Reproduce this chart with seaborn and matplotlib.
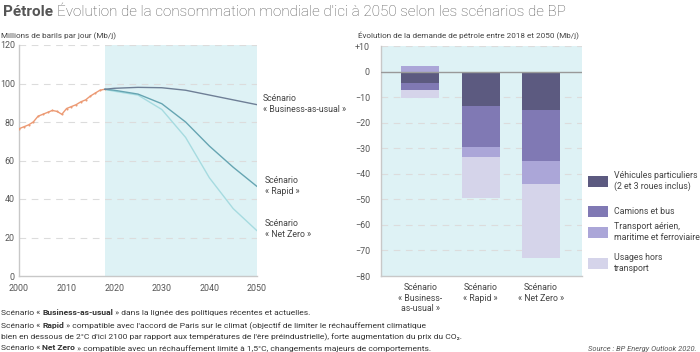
import numpy as np
import pandas as pd
import seaborn as sns
import matplotlib.pyplot as plt
from matplotlib.patches import Rectangle

# historical consumption (Mb/j)
hist_years = list(range(2000, 2019))
hist_vals = [76.5, 77.5, 78.5, 80, 83, 84, 85, 86, 85.5, 84, 87, 88, 89, 90.5, 91.5, 93.5, 95, 96.5, 97]

# scenarios
sc_years = [2018, 2020, 2025, 2030, 2035, 2040, 2045, 2050]
bau = [97, 97.5, 98, 97.8, 96.5, 94, 91.5, 89]
rapid = [97, 96.5, 94.5, 89.5, 80, 67.5, 56.5, 46.5]
netzero = [97, 96, 94, 86.5, 72, 51, 35, 23.5]

# change in demand 2018-2050 by use
scen_labels = ["Scénario\n« Business-\nas-usual »", "Scénario\n« Rapid »", "Scénario\n« Net Zero »"]
vehicules = [-4.5, -13.6, -15]
camions = [-2.8, -15.8, -20]
transport = [2.2, -4.1, -9]
hors_transport = [-3, -16, -29]

seg_names = ["Véhicules particuliers\n(2 et 3 roues inclus)", "Camions et bus",
             "Transport aérien,\nmaritime et ferroviaire", "Usages hors\ntransport"]
seg_colors = ["#5c5a80", "#8079b4", "#aba6d8", "#d5d4ea"]

sns.set_theme(style="white")
plt.rcParams['font.family'] = ['Roboto', 'DejaVu Sans']

W, H = 700, 352
fig = plt.figure(figsize=(7, 3.52), dpi=100)

def fx(px):
    return px / W

def fy(py):
    return 1 - py / H

bg = "#def2f5"
grid_c = "#dcdcdc"
txt_c = "#555555"

# ---------- left chart
ax1 = fig.add_axes([fx(19), fy(276), fx(257 - 19), (276 - 45) / H])
ax1.axvspan(2018, 2050, color=bg, lw=0, zorder=0)
for v in range(20, 121, 20):
    ax1.axhline(v, color=grid_c, lw=0.8, ls=(0, (6, 5)), zorder=0.5)

hist = pd.DataFrame({"year": hist_years, "val": hist_vals})
sns.lineplot(data=hist, x="year", y="val", ax=ax1, color="#ec9a74", lw=1.0,
             marker="o", markersize=1.5, markeredgewidth=0, zorder=3)
sc = pd.DataFrame({"year": sc_years, "Business-as-usual": bau, "Rapid": rapid, "Net Zero": netzero})
sc_long = sc.melt(id_vars="year", var_name="scen", value_name="val")
sns.lineplot(data=sc_long, x="year", y="val", hue="scen", ax=ax1, lw=1.0,
             palette={"Business-as-usual": "#6e7f96", "Rapid": "#66a5b2", "Net Zero": "#a6dbe0"},
             hue_order=["Net Zero", "Rapid", "Business-as-usual"], legend=False, zorder=3)

ax1.set_xlim(2000, 2050)
ax1.set_ylim(0, 120)
ax1.set_xticks(range(2000, 2051, 10))
ax1.set_yticks(range(0, 121, 20))
ax1.set_xlabel("")
ax1.set_ylabel("")
ax1.tick_params(axis="y", labelsize=6.4, colors=txt_c, length=0, pad=3)
ax1.tick_params(axis="x", labelsize=6.4, colors=txt_c, length=0, pad=6)
for s in ["top", "right"]:
    ax1.spines[s].set_visible(False)
for s in ["left", "bottom"]:
    ax1.spines[s].set_color("#c8c8c8")
    ax1.spines[s].set_linewidth(1.0)

lab_kw = dict(fontsize=6.3, color="#444444", va="center", ha="left", linespacing=1.3)
fig.text(fx(263), fy(104), "Scénario\n« Business-as-usual »", **lab_kw)
fig.text(fx(265), fy(186), "Scénario\n« Rapid »", **lab_kw)
fig.text(fx(265), fy(229), "Scénario\n« Net Zero »", **lab_kw)

# ---------- right chart
ax2 = fig.add_axes([fx(381), fy(276), fx(582 - 381), (276 - 46) / H])
ax2.set_facecolor(bg)
for v in range(-70, 11, 10):
    if v != 0:
        ax2.axhline(v, color=grid_c, lw=0.8, ls=(0, (6, 5)), zorder=0.5)
ax2.axhline(0, color="#999999", lw=1.0, zorder=4)

x = np.arange(len(scen_labels))
pos_bottom = np.zeros(len(x))
neg_bottom = np.zeros(len(x))
for vals, col in zip([vehicules, camions, transport, hors_transport], seg_colors):
    vals = np.array(vals)
    bottoms = np.where(vals >= 0, pos_bottom, neg_bottom)
    ax2.bar(x, vals, bottom=bottoms, width=0.63, color=col, lw=0, zorder=3)
    pos_bottom = pos_bottom + np.clip(vals, 0, None)
    neg_bottom = neg_bottom + np.clip(vals, None, 0)

ax2.set_xlim(-0.65, 2.68)
ax2.set_ylim(-80, 10)
ax2.set_yticks(range(-80, 11, 10))
ax2.set_yticklabels(["+10" if v > 0 else ("0" if v == 0 else "\u2212%d" % -v) for v in range(-80, 11, 10)])
ax2.set_xticks(x)
ax2.set_xticklabels(scen_labels, linespacing=1.25)
ax2.tick_params(axis="y", labelsize=6.4, colors=txt_c, length=0, pad=8)
ax2.tick_params(axis="x", labelsize=6.3, colors="#444444", length=0, pad=5)
for s in ["top", "right"]:
    ax2.spines[s].set_visible(False)
for s in ["left", "bottom"]:
    ax2.spines[s].set_color("#c8c8c8")
    ax2.spines[s].set_linewidth(1.0)

# legend
leg_y = [181, 211, 232, 263]
for yy, name, col in zip(leg_y, seg_names, seg_colors):
    fig.add_artist(Rectangle((fx(588), fy(yy + 5.5)), fx(20), 11 / H, color=col,
                             transform=fig.transFigure, lw=0))
    fig.text(fx(614), fy(yy), name, fontsize=6.3, color="#444444", va="center",
             ha="left", linespacing=1.3)

# ---------- titles
renderer = fig.canvas.get_renderer()

def rich_line(x0, y0, parts, size, color):
    xp = x0
    for s, w in parts:
        t = fig.text(fx(xp), fy(y0), s, fontsize=size, color=color, fontweight=w,
                     va="baseline", ha="left")
        xp += t.get_window_extent(renderer).width

rich_line(3, 16, [("Pétrole ", "bold"), ("Évolution de la consommation mondiale d'ici à 2050 selon les scénarios de BP", "light")], 11.0, "#555555")
fig.text(fx(1), fy(36), "Millions de barils par jour (Mb/j)", fontsize=5.9, color="#444444", va="center")
fig.text(fx(358), fy(36), "Évolution de la demande de pétrole entre 2018 et 2050 (Mb/j)", fontsize=5.9,
         color="#444444", va="center")

fn = 6.1
fc = "#333333"
rich_line(1, 315, [("Scénario « ", "normal"), ("Business-as-usual", "bold"), (" » dans la lignée des politiques récentes et actuelles.", "normal")], fn, fc)
rich_line(1, 328, [("Scénario « ", "normal"), ("Rapid", "bold"), (" » compatible avec l'accord de Paris sur le climat (objectif de limiter le réchauffement climatique", "normal")], fn, fc)
rich_line(1, 339.5, [("bien en dessous de 2°C d'ici 2100 par rapport aux températures de l'ère préindustrielle), forte augmentation du prix du CO₂.", "normal")], fn, fc)
rich_line(1, 350.5, [("Scénario « ", "normal"), ("Net Zero", "bold"), (" » compatible avec un réchauffement limité à 1,5°C, changements majeurs de comportements.", "normal")], fn, fc)
fig.text(fx(697), fy(350.5), "Source : BP Energy Outlook 2020.", fontsize=5.4, color="#555555",
         style="italic", ha="right", va="baseline")

fig.savefig("out.png", dpi=100)
